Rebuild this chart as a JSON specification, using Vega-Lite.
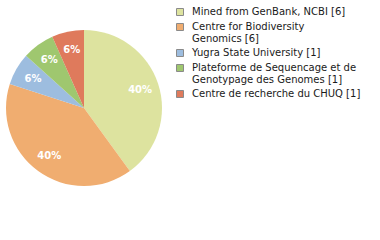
{
  "$schema": "https://vega.github.io/schema/vega-lite/v6.json",
  "width": 168,
  "height": 216,
  "padding": 0,
  "background": "white",
  "config": {"view": {"stroke": null}},
  "data": {
    "values": [
      {"source": "Mined from GenBank, NCBI [6]", "count": 6},
      {"source": "Centre for Biodiversity Genomics [6]", "count": 6},
      {"source": "Yugra State University [1]", "count": 1},
      {"source": "Plateforme de Sequencage et de Genotypage des Genomes [1]", "count": 1},
      {"source": "Centre de recherche du CHUQ [1]", "count": 1}
    ]
  },
  "transform": [
    {"window": [{"op": "row_number", "as": "idx"}]},
    {"joinaggregate": [{"op": "sum", "field": "count", "as": "total"}]},
    {"calculate": "floor(datum.count / datum.total * 100) + '%'", "as": "pct"}
  ],
  "encoding": {
    "theta": {"field": "count", "type": "quantitative", "stack": true},
    "order": {"field": "idx", "type": "quantitative"},
    "color": {
      "field": "source",
      "type": "nominal",
      "sort": [
        "Mined from GenBank, NCBI [6]",
        "Centre for Biodiversity Genomics [6]",
        "Yugra State University [1]",
        "Plateforme de Sequencage et de Genotypage des Genomes [1]",
        "Centre de recherche du CHUQ [1]"
      ],
      "scale": {
        "range": ["#dde39f", "#f0ad70", "#9dbddf", "#9fc76f", "#df7a5c"]
      },
      "legend": {
        "title": null,
        "orient": "none",
        "legendX": 175,
        "legendY": 7,
        "padding": 0,
        "symbolType": "square",
        "symbolSize": 49,
        "symbolStrokeColor": "#8a8a8a",
        "symbolStrokeWidth": 1,
        "labelFont": "DejaVu Sans",
        "labelFontSize": 10,
        "labelColor": "#1a1a1a",
        "labelOffset": 7,
        "labelLimit": 300,
        "rowPadding": 3,
        "labelExpr": "datum.label == 'Centre for Biodiversity Genomics [6]' ? ['Centre for Biodiversity', 'Genomics [6]'] : datum.label == 'Plateforme de Sequencage et de Genotypage des Genomes [1]' ? ['Plateforme de Sequencage et de', 'Genotypage des Genomes [1]'] : datum.label"
      }
    }
  },
  "layer": [
    {"mark": {"type": "arc", "outerRadius": 78}},
    {
      "mark": {"type": "text", "radius": 59, "font": "DejaVu Sans", "fontSize": 10, "fontWeight": "bold"},
      "encoding": {
        "text": {"field": "pct", "type": "nominal"},
        "color": {"value": "white"}
      }
    }
  ]
}
